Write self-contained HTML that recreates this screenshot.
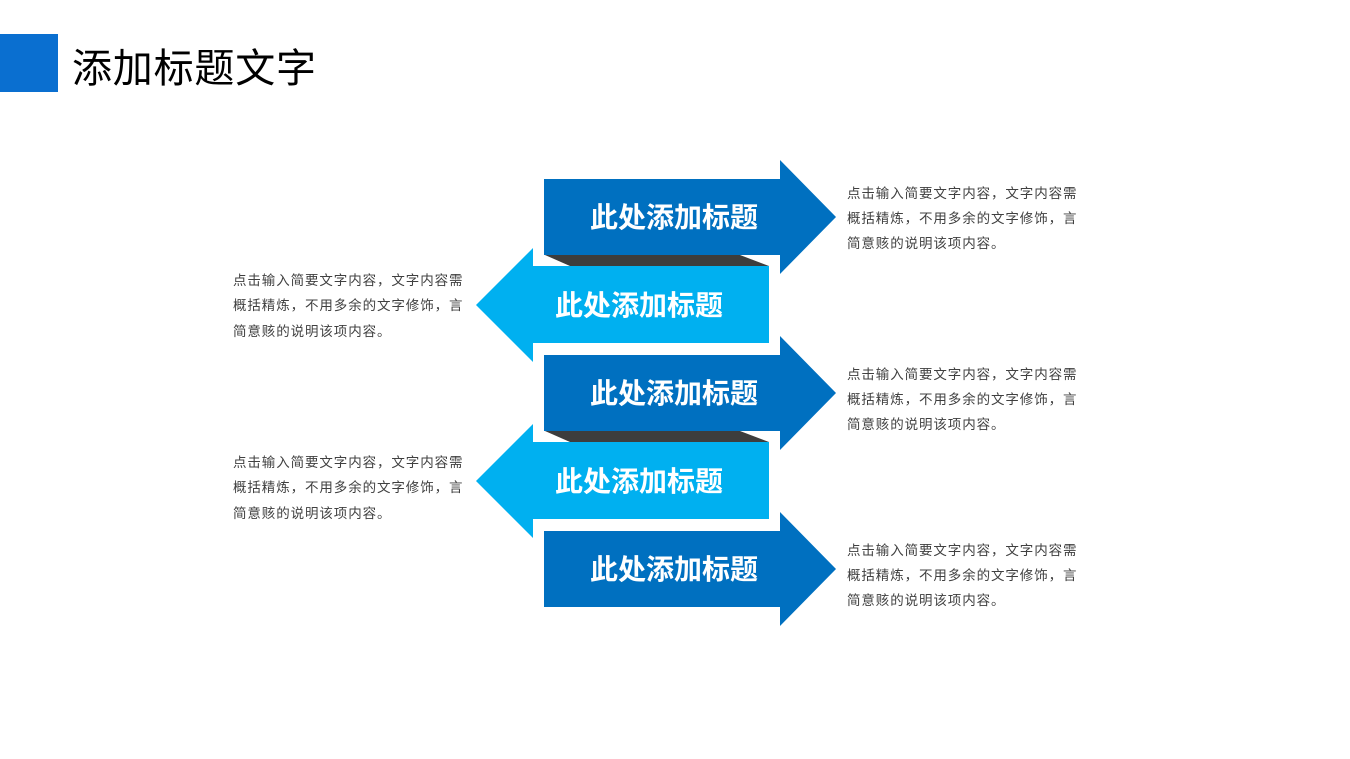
<!DOCTYPE html>
<html><head><meta charset="utf-8"><style>
body{margin:0;width:1350px;height:759px;background:#fff;overflow:hidden;font-family:"Liberation Sans","Noto Sans CJK SC",sans-serif}
</style></head><body>
<svg width="1350" height="759" viewBox="0 0 1350 759" xmlns="http://www.w3.org/2000/svg" style="position:absolute;left:0;top:0">
<rect x="0" y="34" width="58" height="58" fill="#0a6fd0"/>
<text x="72" y="82" font-size="40" fill="#000" font-family="Noto Sans CJK SC, sans-serif" letter-spacing="0.8">添加标题文字</text>
<g font-family="Noto Sans CJK SC, sans-serif" font-weight="bold" font-size="28" fill="#fff" text-anchor="middle">
<polygon points="545,255 740,255 769,266 570,266" fill="#3d3d3d"/>
<polygon points="545,431 740,431 769,442 570,442" fill="#3d3d3d"/>
<polygon points="544,179 780,179 780,160 836,217 780,274 780,255 544,255" fill="#0070c0"/>
<polygon points="544,355 780,355 780,336 836,393 780,450 780,431 544,431" fill="#0070c0"/>
<polygon points="544,531 780,531 780,512 836,569 780,626 780,607 544,607" fill="#0070c0"/>
<polygon points="769,266 533,266 533,248 476,305 533,362 533,343 769,343" fill="#00b0f0"/>
<polygon points="769,442 533,442 533,424 476,481 533,538 533,519 769,519" fill="#00b0f0"/>
<text x="674" y="227">此处添加标题</text>
<text x="639" y="315">此处添加标题</text>
<text x="674" y="403">此处添加标题</text>
<text x="639" y="491">此处添加标题</text>
<text x="674" y="579">此处添加标题</text>
</g>
<g font-family="Noto Sans CJK SC, sans-serif" font-size="13.5" fill="#404040" letter-spacing="0.9">
<text x="847" y="198">点击输入简要文字内容，文字内容需</text>
<text x="847" y="223">概括精炼，不用多余的文字修饰，言</text>
<text x="847" y="248">简意赅的说明该项内容。</text>
<text x="847" y="379">点击输入简要文字内容，文字内容需</text>
<text x="847" y="404">概括精炼，不用多余的文字修饰，言</text>
<text x="847" y="429">简意赅的说明该项内容。</text>
<text x="847" y="555">点击输入简要文字内容，文字内容需</text>
<text x="847" y="580">概括精炼，不用多余的文字修饰，言</text>
<text x="847" y="605">简意赅的说明该项内容。</text>
<text x="233" y="285">点击输入简要文字内容，文字内容需</text>
<text x="233" y="310">概括精炼，不用多余的文字修饰，言</text>
<text x="233" y="336">简意赅的说明该项内容。</text>
<text x="233" y="467">点击输入简要文字内容，文字内容需</text>
<text x="233" y="492">概括精炼，不用多余的文字修饰，言</text>
<text x="233" y="518">简意赅的说明该项内容。</text>
</g>
</svg>
</body></html>
